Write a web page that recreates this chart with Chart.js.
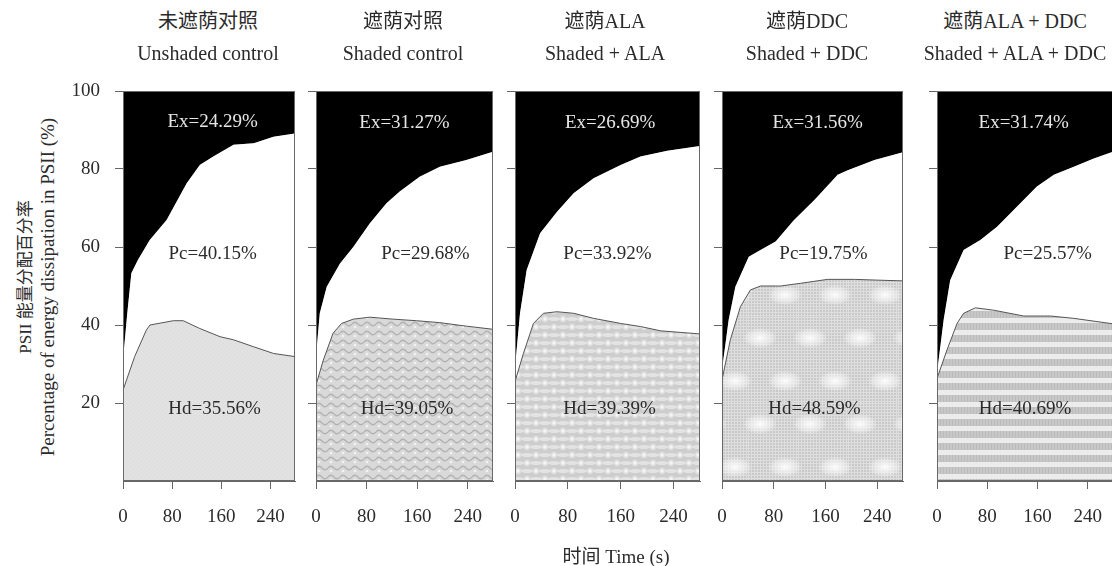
<!DOCTYPE html>
<html>
<head>
<meta charset="utf-8">
<script src="https://cdn.jsdelivr.net/npm/chart.js@4.4.1/dist/chart.umd.min.js"></script>
<style>
  html, body { margin: 0; padding: 0; background: #fff; width: 1112px; height: 566px; overflow: hidden; position: relative; }
  .txt { position: absolute; white-space: nowrap; font-family: 'Liberation Serif', 'Noto Sans CJK SC', serif; color: #2b2b2b; transform: translate(-50%, -50%); line-height: 1; }
  .rot { transform: translate(-50%, -50%) rotate(-90deg); }
  canvas { position: absolute; }
</style>
</head>
<body>
<script>
// ---- panel titles and axis text ----
const titlesCn = ['未遮荫对照', '遮荫对照', '遮荫ALA', '遮荫DDC', '遮荫ALA + DDC'];
const titlesEn = ['Unshaded control', 'Shaded control', 'Shaded + ALA', 'Shaded + DDC', 'Shaded + ALA + DDC'];
const xTickValues = [0, 80, 160, 240];
const yTickValues = [20, 40, 60, 80, 100];

// ---- mean shares of each dissipation pathway (%) ----
const exShare = [24.29, 31.27, 26.69, 31.56, 31.74];
const pcShare = [40.15, 29.68, 33.92, 19.75, 25.57];
const hdShare = [35.56, 39.05, 39.39, 48.59, 40.69];

// ---- time courses: Hd upper boundary and Hd+Pc upper boundary (%) ----
// Unshaded control
const t1Hd  = [0, 19, 38, 44, 82, 98, 125, 158, 180, 213, 245, 280];
const v1Hd  = [23.3, 31.9, 38.7, 40.0, 41.1, 41.1, 39.1, 37.0, 36.2, 34.4, 32.7, 31.9];
const t1Top = [0, 7, 13.6, 24.5, 43.6, 71, 103.5, 125, 147, 180, 213, 245, 280];
const v1Top = [31.0, 43.0, 53.3, 56.7, 61.8, 66.9, 76.3, 81.0, 83.2, 86.2, 86.6, 88.3, 89.1];
// Shaded control
const t2Hd  = [0, 11.6, 27, 40.5, 59, 85, 122, 159, 196, 238, 280];
const v2Hd  = [24.6, 31.0, 37.9, 40.4, 41.5, 42.0, 41.5, 41.1, 40.6, 39.7, 38.9];
const t2Top = [0, 6, 17, 38, 59, 85, 111.5, 132.5, 164, 196, 238, 280];
const v2Top = [31.9, 43.0, 49.8, 55.8, 60.0, 66.0, 71.2, 74.2, 78.0, 80.6, 82.3, 84.4];
// Shaded + ALA
const t3Hd  = [0, 12.7, 27.9, 43, 63.4, 88.7, 119, 160, 190, 220.5, 281];
const v3Hd  = [25.5, 32.7, 40.4, 43.0, 43.4, 43.0, 41.7, 40.4, 39.6, 38.5, 37.7];
const t3Top = [0, 7.6, 17.7, 38, 63.4, 88.7, 119, 160, 190, 230.7, 281];
const v3Top = [29.0, 43.0, 54.1, 63.5, 69.0, 73.8, 77.6, 81.0, 83.2, 84.7, 85.9];
// Shaded + DDC
const t4Hd  = [0, 12.9, 28.5, 44, 59.6, 90.7, 121.9, 163.4, 205, 241, 282];
const v4Hd  = [25.9, 36.2, 44.7, 49.0, 50.0, 50.0, 50.7, 51.7, 51.7, 51.5, 51.3];
const t4Top = [0, 10.3, 20.7, 41.4, 59.6, 83, 111.5, 142.6, 179, 194.6, 236, 282];
const v4Top = [28.5, 41.3, 49.8, 57.5, 59.2, 61.4, 66.9, 72.0, 78.5, 79.7, 82.3, 84.4];
// Shaded + ALA + DDC
const t5Hd  = [0, 15.9, 31.9, 42.4, 61, 90, 138, 180.6, 217.7, 280];
const v5Hd  = [26.3, 33.6, 40.4, 43.0, 44.4, 43.8, 42.3, 42.3, 41.7, 40.3];
const t5Top = [0, 10.6, 21, 42.4, 69, 95.6, 122, 159, 186, 217.7, 249.6, 280];
const v5Top = [27.6, 41.3, 51.5, 59.2, 61.8, 65.2, 69.5, 75.5, 78.5, 80.6, 82.7, 84.4];

const hdTimes  = [t1Hd, t2Hd, t3Hd, t4Hd, t5Hd];
const hdValues = [v1Hd, v2Hd, v3Hd, v4Hd, v5Hd];
const topTimes  = [t1Top, t2Top, t3Top, t4Top, t5Top];
const topValues = [v1Top, v2Top, v3Top, v4Top, v5Top];

// ---- layout of the five plot frames (px) ----
const frames = [
  { left: 123, right: 295 }, { left: 316, right: 493 }, { left: 515, right: 700 },
  { left: 722, right: 903 }, { left: 937, right: 1113 }
];
const FRAME_TOP = 91, FRAME_BOTTOM = 481;
const titleCenters = [208, 403, 605, 807, 1015];
// where the share labels sit inside each panel, in data units [time, percent]
const labelSpots = [
  { ex: [146, 92.0], pc: [146, 58.2], hd: [149, 18.5] },
  { ex: [140, 91.8], pc: [173, 58.2], hd: [144, 18.5] },
  { ex: [144, 91.8], pc: [140, 58.2], hd: [143, 18.5] },
  { ex: [148, 91.8], pc: [157, 58.2], hd: [143, 18.5] },
  { ex: [138, 91.8], pc: [176, 58.2], hd: [140, 18.5] }
];

// ---- texture fills for the Hd area of each treatment ----
function makeTexture(kind) {
  const c = document.createElement('canvas');
  const g = c.getContext('2d');
  if (kind === 0) {
    c.width = 4; c.height = 4;
    g.fillStyle = '#e2e2e2'; g.fillRect(0, 0, 4, 4);
    g.fillStyle = '#dadada'; g.fillRect(0, 0, 1, 1); g.fillRect(2, 2, 1, 1);
  } else if (kind === 1) {
    c.width = 12; c.height = 9;
    g.fillStyle = '#d9d9d9'; g.fillRect(0, 0, 12, 9);
    g.strokeStyle = '#b3b3b3'; g.lineWidth = 1.4;
    g.beginPath(); g.moveTo(0, 4); g.quadraticCurveTo(3, 0.5, 6, 4); g.quadraticCurveTo(9, 7.5, 12, 4); g.stroke();
    g.fillStyle = '#f2f2f2'; g.beginPath(); g.arc(3, 7, 1.3, 0, Math.PI * 2); g.fill();
  } else if (kind === 2) {
    c.width = 18; c.height = 16;
    g.fillStyle = '#cdcdcd'; g.fillRect(0, 0, 18, 16);
    g.fillStyle = '#e3e3e3';
    g.beginPath(); g.ellipse(9, 4, 6, 2, 0, 0, Math.PI * 2); g.fill();
    g.beginPath(); g.ellipse(0, 12, 6, 2, 0, 0, Math.PI * 2); g.fill();
    g.beginPath(); g.ellipse(18, 12, 6, 2, 0, 0, Math.PI * 2); g.fill();
    [[0, 4], [18, 4], [9, 12]].forEach(([cx, cy]) => {
      const rg = g.createRadialGradient(cx, cy, 0, cx, cy, 4);
      rg.addColorStop(0, 'rgba(255,255,255,1)'); rg.addColorStop(1, 'rgba(255,255,255,0)');
      g.fillStyle = rg; g.fillRect(cx - 4, cy - 4, 8, 8);
    });
  } else if (kind === 3) {
    c.width = 50; c.height = 86;
    g.fillStyle = '#c9c9c9'; g.fillRect(0, 0, 50, 86);
    g.fillStyle = '#dedede';
    for (let i = 0; i < 50; i += 3) g.fillRect(i, 0, 1, 86);
    for (let j = 0; j < 86; j += 3) g.fillRect(0, j, 50, 1);
    [[12, 21], [37, 64], [-13, 64], [62, 21]].forEach(([cx, cy]) => {
      g.save(); g.translate(cx, cy); g.scale(1.7, 1);
      const rg = g.createRadialGradient(0, 0, 0, 0, 0, 10);
      rg.addColorStop(0, 'rgba(255,255,255,0.95)'); rg.addColorStop(0.6, 'rgba(245,245,245,0.6)'); rg.addColorStop(1, 'rgba(255,255,255,0)');
      g.fillStyle = rg; g.fillRect(-10, -10, 20, 20); g.restore();
    });
  } else {
    c.width = 3; c.height = 12;
    g.fillStyle = '#c7c7c7'; g.fillRect(0, 0, 3, 12);
    g.fillStyle = '#bcbcbc'; g.fillRect(0, 0, 1, 7);
    g.fillStyle = '#ececec'; g.fillRect(0, 7, 3, 5);
  }
  return g.createPattern(c, 'repeat');
}

// frame around the plot area plus the share labels
const panelDecor = {
  id: 'panelDecor',
  afterDatasetsDraw(chart, args, opts) {
    const { ctx, chartArea: a, scales: { x, y } } = chart;
    ctx.save();
    ctx.strokeStyle = '#6a6a6a'; ctx.lineWidth = 1;
    ctx.strokeRect(a.left + 0.5, a.top + 0.5, a.right - a.left - 1, a.bottom - a.top - 1);
    ctx.font = '19px "Liberation Serif"';
    ctx.textAlign = 'center'; ctx.textBaseline = 'middle';
    opts.labels.forEach(l => {
      ctx.fillStyle = l.color;
      ctx.fillText(l.text, x.getPixelForValue(l.t), y.getPixelForValue(l.v));
    });
    ctx.restore();
  }
};

function addText(text, cx, cy, size, extra) {
  const d = document.createElement('div');
  d.className = 'txt' + (extra ? ' ' + extra : '');
  d.style.left = cx + 'px'; d.style.top = cy + 'px'; d.style.fontSize = size + 'px';
  d.textContent = text;
  document.body.appendChild(d);
}

Chart.defaults.font.family = "'Liberation Serif', 'Noto Sans CJK SC', serif";
Chart.defaults.color = '#2b2b2b';

frames.forEach((f, i) => {
  // room kept around the plot frame for axes and label overhang
  const yw = i === 0 ? 60 : 24;
  const padT = 32, padR = 8, xh = 50;
  const plotW = f.right - f.left, plotH = FRAME_BOTTOM - FRAME_TOP;
  const cv = document.createElement('canvas');
  cv.width = yw + plotW + padR; cv.height = padT + plotH + xh;
  cv.style.left = (f.left - yw) + 'px'; cv.style.top = (FRAME_TOP - padT) + 'px';
  document.body.appendChild(cv);

  const hdPts  = hdTimes[i].map((t, k) => ({ x: t, y: hdValues[i][k] }));
  const topPts = topTimes[i].map((t, k) => ({ x: t, y: topValues[i][k] }));
  const fmt = v => v.toFixed(2) + '%';
  const spot = labelSpots[i];

  new Chart(cv, {
    type: 'line',
    data: {
      datasets: [
        { label: 'Hd', data: hdPts, fill: 'origin', backgroundColor: makeTexture(i),
          borderColor: '#555', borderWidth: 1, pointRadius: 0, tension: 0 },
        { label: 'Pc', data: topPts, fill: '-1', backgroundColor: '#ffffff',
          borderColor: 'rgba(0,0,0,0)', borderWidth: 0, pointRadius: 0, tension: 0 },
        { label: 'Ex', data: topPts, fill: 'end', backgroundColor: '#000000',
          borderColor: '#000000', borderWidth: 0.5, pointRadius: 0, tension: 0 }
      ]
    },
    options: {
      responsive: false, animation: false, devicePixelRatio: 1,
      layout: { padding: { top: padT, right: padR, left: 0, bottom: 0 } },
      plugins: {
        legend: { display: false }, tooltip: { enabled: false },
        panelDecor: { labels: [
          { text: 'Ex=' + fmt(exShare[i]), t: spot.ex[0], v: spot.ex[1], color: '#e6e6e6' },
          { text: 'Pc=' + fmt(pcShare[i]), t: spot.pc[0], v: spot.pc[1], color: '#2b2b2b' },
          { text: 'Hd=' + fmt(hdShare[i]), t: spot.hd[0], v: spot.hd[1], color: '#2b2b2b' }
        ] }
      },
      scales: {
        x: {
          type: 'linear', min: 0, max: 280,
          afterFit: s => { s.height = xh; },
          afterBuildTicks: s => { s.ticks = xTickValues.map(v => ({ value: v })); },
          ticks: { font: { size: 19 }, color: '#2b2b2b', padding: 17, maxRotation: 0, autoSkip: false },
          grid: { drawOnChartArea: false, drawTicks: true, tickLength: 8, color: '#666', lineWidth: 1 },
          border: { display: true, color: '#666', width: 1 }
        },
        y: {
          type: 'linear', min: 0, max: 100,
          afterFit: s => { s.width = yw; },
          afterBuildTicks: s => { s.ticks = yTickValues.map(v => ({ value: v })); },
          ticks: { font: { size: 19 }, color: '#2b2b2b', padding: i === 0 ? 15 : 0,
                   callback: v => (i === 0 ? v : '') },
          grid: { drawOnChartArea: false, drawTicks: true, tickLength: 8, color: '#666', lineWidth: 1 },
          border: { display: true, color: '#666', width: 1 }
        }
      }
    },
    plugins: [panelDecor]
  });

  addText(titlesCn[i], titleCenters[i], 21, 20);
  addText(titlesEn[i], titleCenters[i], 53, 20);
});

addText('PSII 能量分配百分率', 25, 277, 17, 'rot');
addText('Percentage of energy dissipation in PSII (%)', 47, 287, 19, 'rot');
addText('时间 Time (s)', 616, 556, 19);
</script>
</body>
</html>
